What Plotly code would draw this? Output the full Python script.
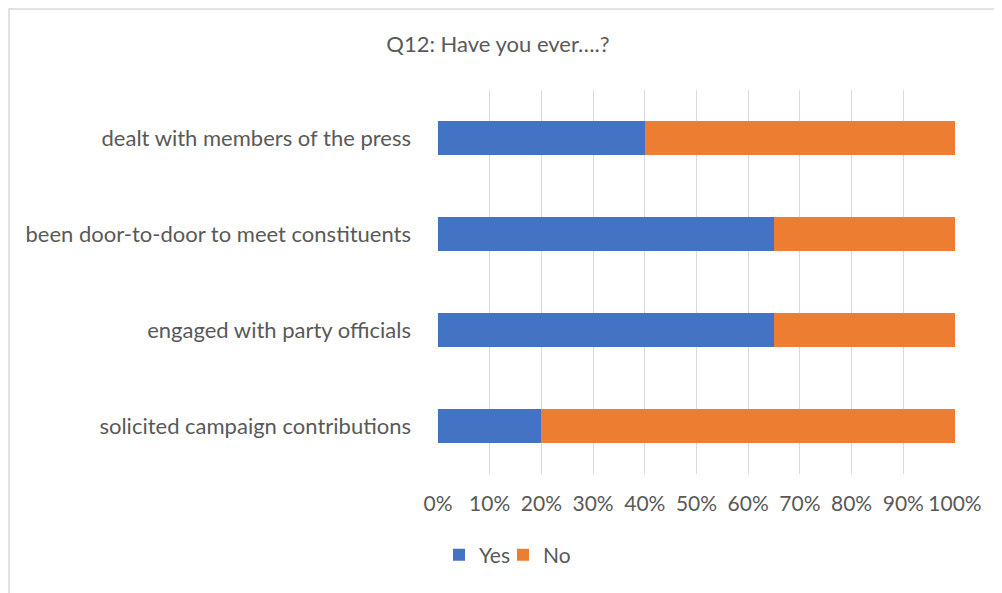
import plotly.graph_objects as go

categories = ["solicited campaign contributions", "engaged with party officials",
              "been door-to-door to meet constituents", "dealt with members of the press"]
yes_vals = [20, 65, 65, 40]
no_vals = [80, 35, 35, 60]
tick_vals = [0, 10, 20, 30, 40, 50, 60, 70, 80, 90, 100]
tick_text = [f"{v}%" for v in tick_vals]

FONT = "Lato"
TXT = "#595959"
W, H = 994, 585  # page has an 8px body margin

fig = go.Figure()
fig.add_trace(go.Bar(y=categories, x=yes_vals, name="Yes", orientation="h",
                     marker=dict(color="#4472C4", line=dict(width=0)), legend="legend"))
fig.add_trace(go.Bar(y=categories, x=no_vals, name="No", orientation="h",
                     marker=dict(color="#ED7D31", line=dict(width=0)), legend="legend2"))

leg_common = dict(orientation="h", xref="container", yref="container",
                  xanchor="left", y=1 - 547/H, yanchor="middle",
                  font=dict(family=FONT, size=21, color=TXT), itemwidth=30,
                  bgcolor="rgba(0,0,0,0)")

fig.update_layout(
    width=W, height=H,
    barmode="stack", bargap=0.655,
    paper_bgcolor="white", plot_bgcolor="white",
    margin=dict(l=430, r=47, t=82, b=119),
    font=dict(family=FONT, size=21, color=TXT),
    title=dict(text="Q12: Have you ever….?", x=490/W, xref="container", xanchor="center",
               y=1 - 36/H, yref="container", yanchor="middle",
               font=dict(family=FONT, size=22, color=TXT)),
    showlegend=True,
    legend=dict(x=431/W, **leg_common),
    legend2=dict(x=495/W, **leg_common),
    xaxis=dict(range=[0, 100], tickvals=tick_vals, ticktext=tick_text,
               showgrid=True, gridcolor="#D9D9D9", gridwidth=1,
               zeroline=False, showline=False, ticks="", ticklabelstandoff=15,
               tickfont=dict(family=FONT, size=21, color=TXT), fixedrange=True),
    yaxis=dict(categoryorder="array", categoryarray=categories,
               showgrid=False, zeroline=False, showline=False, ticks="",
               ticklabelstandoff=26, range=[-0.5, 3.5],
               tickfont=dict(family=FONT, size=22, color=TXT)),
)
fig.add_shape(type="rect", xref="paper", yref="paper",
              x0=(1 - 430)/517, x1=(1010 - 430)/517, y0=(466 - 600)/384, y1=(466 - 1)/384,
              line=dict(color="#D9D9D9", width=1.5), fillcolor="rgba(0,0,0,0)", layer="below")
fig.write_html("out.html")
